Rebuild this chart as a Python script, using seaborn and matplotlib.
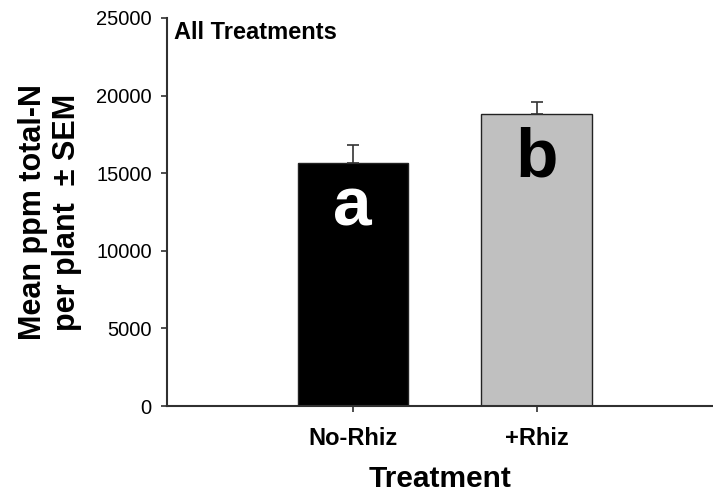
import matplotlib
matplotlib.use("Agg")
import matplotlib.pyplot as plt
import seaborn as sns
import pandas as pd

treatments = ["No-Rhiz", "+Rhiz"]
means = [15670, 18830]
sems = [1120, 750]
letters = ["a", "b"]
bar_colors = ["#000000", "#C0C0C0"]
letter_colors = ["white", "black"]

sns.set_style("ticks")
plt.rcParams["font.family"] = ["Liberation Sans", "DejaVu Sans"]
plt.rcParams["text.color"] = "black"
plt.rcParams["axes.labelcolor"] = "black"
plt.rcParams["xtick.labelcolor"] = "black"
plt.rcParams["ytick.labelcolor"] = "black"

df = pd.DataFrame({"Treatment": treatments, "Mean": means})

fig = plt.figure(figsize=(7.13, 4.98), dpi=100)
ax = fig.add_axes([167 / 713, 92 / 498, 546 / 713, 388 / 498])

sns.barplot(data=df, x="Treatment", y="Mean", hue="Treatment",
            palette=bar_colors, width=0.6, edgecolor="#222222",
            linewidth=1.0, legend=False, ax=ax)

ax.errorbar(range(len(treatments)), means, yerr=[[0] * len(sems), sems],
            fmt="none", ecolor="#333333", elinewidth=1.2, capsize=4,
            capthick=1.2, zorder=1)

for i, (m, l, c) in enumerate(zip(means, letters, letter_colors)):
    ax.text(i, m - 4070, l, ha="center", va="baseline", color=c,
            fontsize=50, fontweight="bold")

ax.set_xlim(-1.01, 1.96)
ax.set_ylim(0, 25000)
ax.set_yticks([0, 5000, 10000, 15000, 20000, 25000])

for s in ["top", "right"]:
    ax.spines[s].set_visible(False)
for s in ["left", "bottom"]:
    ax.spines[s].set_color("#303030")
    ax.spines[s].set_linewidth(1.5)

ax.tick_params(axis="y", direction="out", length=4, width=1.2,
               color="#303030", labelcolor="black", labelsize=14.5, pad=7)
ax.tick_params(axis="x", direction="out", length=4, width=1.2,
               color="#303030", labelcolor="black", labelsize=17, pad=11)
for t in ax.get_xticklabels():
    t.set_fontweight("bold")

ax.set_xlabel("Treatment", fontsize=21.5, fontweight="bold", labelpad=11,
              color="black")
ax.set_ylabel("Mean ppm total-N\nper plant  \u00b1 SEM", fontsize=22,
              fontweight="bold", labelpad=10, linespacing=1.2, color="black")

ax.text(0.012, 0.9464, "All Treatments", transform=ax.transAxes,
        ha="left", va="baseline", fontsize=17, fontweight="bold",
        color="black")

fig.savefig("out.png", dpi=100)
